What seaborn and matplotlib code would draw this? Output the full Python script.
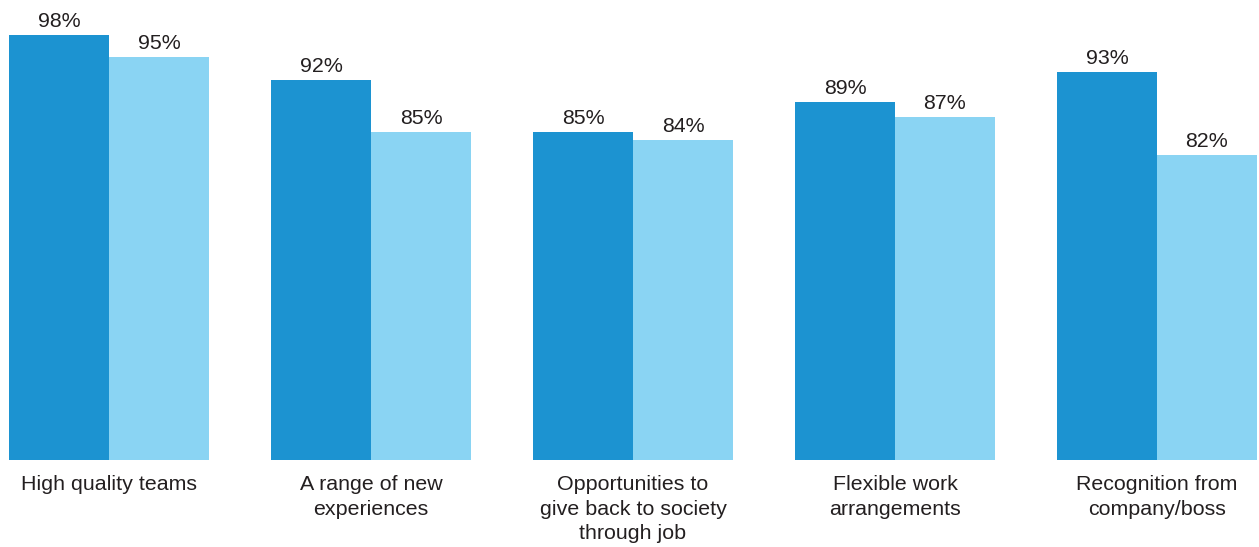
import pandas as pd
import matplotlib
matplotlib.use("Agg")
import matplotlib.pyplot as plt
import seaborn as sns

# data
categories = [
    "High quality teams",
    "A range of new\nexperiences",
    "Opportunities to\ngive back to society\nthrough job",
    "Flexible work\narrangements",
    "Recognition from\ncompany/boss",
]
series_names = ["Group A", "Group B"]
values_a = [98, 92, 85, 89, 93]
values_b = [95, 85, 84, 87, 82]

dark_blue = "#1C93D1"
light_blue = "#8AD4F3"

df = pd.DataFrame({
    "category": categories * 2,
    "group": [series_names[0]] * len(categories) + [series_names[1]] * len(categories),
    "value": values_a + values_b,
})

sns.set_style("white")
plt.rcParams["font.family"] = ["Liberation Sans", "DejaVu Sans"]

fig = plt.figure(figsize=(12.59, 5.47), dpi=100)
ax = fig.add_axes([0, 87 / 547, 1, 460 / 547])

sns.barplot(data=df, x="category", y="value", hue="group", order=categories,
            hue_order=series_names, palette=[dark_blue, light_blue],
            width=200 / 262, saturation=1, linewidth=0, legend=False, ax=ax)

for cont in ax.containers:
    ax.bar_label(cont, labels=[f"{v:.0f}%" for v in cont.datavalues],
                 padding=3, fontsize=15.4, color="#231f20")

ax.set_ylim(41.33, 98 + 35 / 7.5)
ax.set_xlim(-109 / 262, (1259 - 109) / 262)
ax.set_xlabel("")
ax.set_ylabel("")
ax.set_yticks([])
ax.tick_params(axis="x", length=0, pad=11, labelsize=15.4, labelcolor="#231f20")
for lab in ax.get_xticklabels():
    lab.set_multialignment("center")
    lab.set_linespacing(1.36)
for s in ax.spines.values():
    s.set_visible(False)

fig.savefig("out.png", dpi=100)
